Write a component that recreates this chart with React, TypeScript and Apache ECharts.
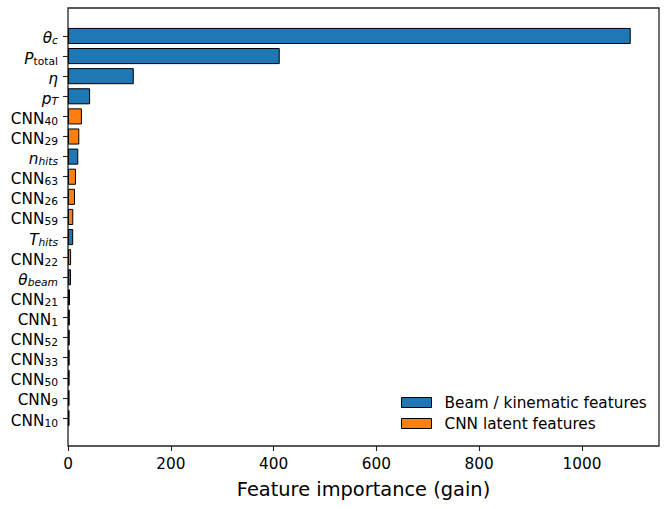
import React, { useEffect, useRef } from "react";
import * as echarts from "echarts";

const categories = [
  "θ_c", "P_total", "η", "p_T", "CNN_40", "CNN_29", "n_hits", "CNN_63", "CNN_26", "CNN_59",
  "T_hits", "CNN_22", "θ_beam", "CNN_21", "CNN_1", "CNN_52", "CNN_33", "CNN_50", "CNN_9", "CNN_10",
];
const groups = [
  "beam", "beam", "beam", "beam", "cnn", "cnn", "beam", "cnn", "cnn", "cnn",
  "beam", "cnn", "beam", "cnn", "cnn", "cnn", "cnn", "cnn", "cnn", "cnn",
];
const importance = [
  1095, 412, 128, 43, 27, 22, 20, 15.5, 13.6, 10.3,
  10.1, 6.0, 5.8, 3.9, 3.6, 3.4, 3.3, 3.2, 3.1, 3.0,
];
const xTicks = [0, 200, 400, 600, 800, 1000];
const seriesNames = ["Beam / kinematic features", "CNN latent features"];
const seriesColors = ["#1f77b4", "#ff7f0e"];

const FONT = "DejaVu Sans";

function fmtLabel(name: string): string {
  const [base, sub] = name.split("_");
  const m = base === "CNN" ? "r" : "i";
  if (sub === undefined) return `{${m}|${base}}`;
  const s = /^\d+$/.test(sub) || sub === "total" ? "sr" : "si";
  return `{${m}|${base}}{${s}|${sub}}`;
}

export default function App() {
  const ref = useRef<HTMLDivElement>(null);
  useEffect(() => {
    if (!ref.current) return;
    const chart = echarts.init(ref.current, undefined, { renderer: "svg" });
    const H = 509;
    const left = 68, right = 11, top = 8, bottom = 63;
    const plotH = H - top - bottom; // 438
    const unit = plotH / 21.78;
    const barTop = top + (1.39 - 0.5) * unit;
    const barH = 20 * unit;

    const beamData = importance.map((v, i) => (groups[i] === "beam" ? v : "-"));
    const cnnData = importance.map((v, i) => (groups[i] === "cnn" ? v : "-"));

    chart.setOption({
      animation: false,
      backgroundColor: "#fff",
      textStyle: { fontFamily: FONT },
      grid: [
        {
          left, right, top, bottom, outerBoundsMode: "none", containLabel: false,
          show: true, borderColor: "#222", borderWidth: 1.3, backgroundColor: "transparent",
        },
        { left, right, top: barTop, height: barH, outerBoundsMode: "none", containLabel: false },
      ],
      xAxis: [
        {
          type: "value", gridIndex: 0, min: 0, max: 1150, interval: 200,
          axisLine: { show: false },
          axisTick: { show: true, length: 5, lineStyle: { color: "#222", width: 1.1 }, customValues: xTicks },
          axisLabel: {
            color: "#000", fontSize: 15.3, fontFamily: FONT, margin: 10, customValues: xTicks,
            formatter: (v: number) => String(v),
          },
          splitLine: { show: false },
          name: "Feature importance (gain)",
          nameLocation: "middle",
          nameGap: 34,
          nameTextStyle: { color: "#000", fontSize: 19.4, fontFamily: FONT, verticalAlign: "top" },
        },
        {
          type: "value", gridIndex: 1, min: 0, max: 1150,
          show: false,
        },
      ],
      yAxis: [
        { type: "value", gridIndex: 0, min: 0, max: 1, show: false },
        {
          type: "category", gridIndex: 1, data: categories, inverse: true,
          axisLine: { show: false },
          axisTick: { show: true, alignWithLabel: true, length: 5, lineStyle: { color: "#222", width: 1.1 } },
          axisLabel: {
            margin: 10,
            formatter: (v: string) => fmtLabel(v),
            rich: {
              r: { fontSize: 15.3, fontFamily: FONT, color: "#000", padding: [5, 0, 0, 0], verticalAlign: "middle" },
              i: { fontSize: 15.3, fontFamily: FONT, fontStyle: "italic", color: "#000", padding: [5, 0, 0, 0], verticalAlign: "middle" },
              sr: { fontSize: 10.7, fontFamily: FONT, color: "#000", padding: [10, 0, 0, 0], verticalAlign: "middle" },
              si: { fontSize: 10.7, fontFamily: FONT, fontStyle: "italic", color: "#000", padding: [10, 0, 0, 0], verticalAlign: "middle" },
            },
          },
        },
      ],
      legend: {
        data: seriesNames,
        orient: "vertical",
        left: 401,
        top: 395,
        padding: 0,
        itemWidth: 30,
        itemHeight: 10,
        itemGap: 6,
        icon: "rect",
        itemStyle: { borderColor: "#000", borderWidth: 1 },
        textStyle: { fontSize: 15.3, fontFamily: FONT, color: "#000", lineHeight: 15, padding: [0, 0, 0, 8] },
      },
      series: [
        {
          name: seriesNames[0], type: "bar", xAxisIndex: 1, yAxisIndex: 1,
          data: beamData, barWidth: "80%", barGap: "-100%",
          itemStyle: { color: seriesColors[0], borderColor: "#000", borderWidth: 1 },
        },
        {
          name: seriesNames[1], type: "bar", xAxisIndex: 1, yAxisIndex: 1,
          data: cnnData, barWidth: "80%", barGap: "-100%",
          itemStyle: { color: seriesColors[1], borderColor: "#000", borderWidth: 1 },
        },
      ],
    });
    return () => chart.dispose();
  }, []);
  return (
    <div
      ref={ref}
      style={{ position: "fixed", left: 0, top: 0, width: 670, height: 509 }}
    />
  );
}
